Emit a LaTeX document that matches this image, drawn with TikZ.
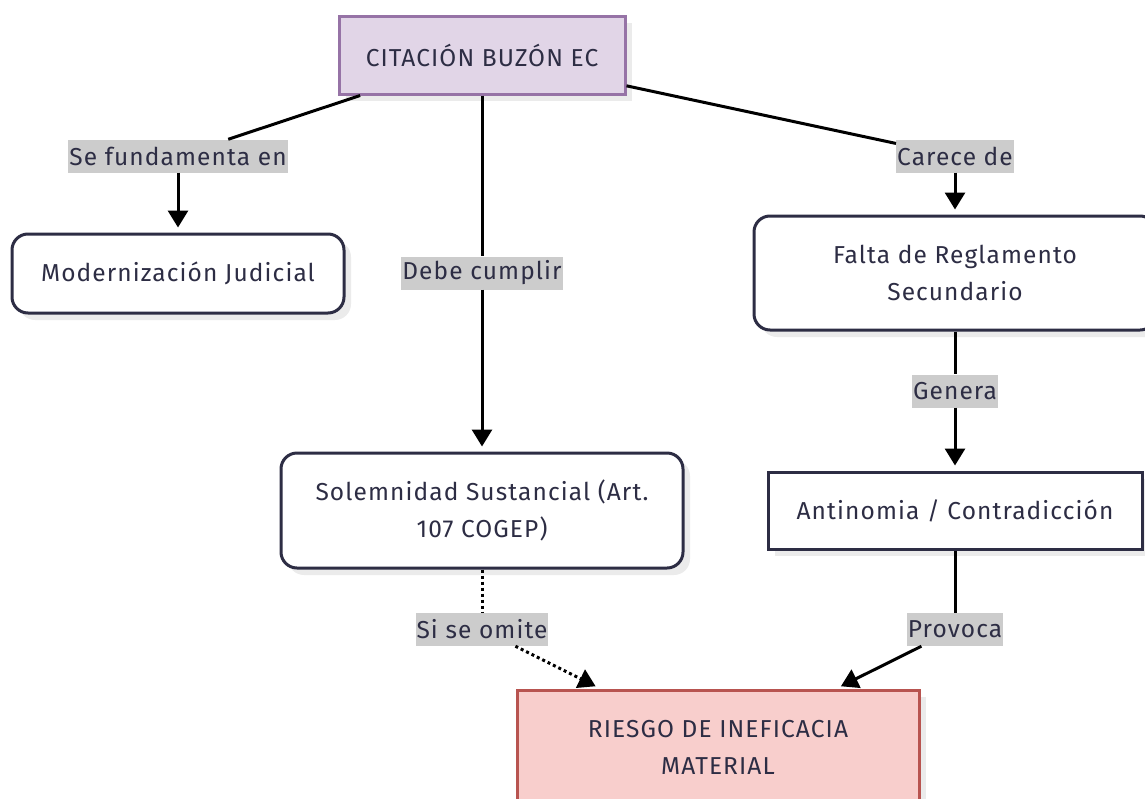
\documentclass[tikz,border=0pt]{standalone}
\usepackage{fontspec}
\setmainfont{Fira Sans}[LetterSpace=4.5]
\usetikzlibrary{arrows.meta,shadows}
\definecolor{txt}{HTML}{2D2D44}
\definecolor{bord}{HTML}{2D2D44}
\definecolor{lav}{HTML}{E1D5E7}
\definecolor{lavb}{HTML}{9673A6}
\definecolor{pink}{HTML}{F8CECC}
\definecolor{pinkb}{HTML}{B85450}
\definecolor{lblfill}{HTML}{CCCCCC}
\definecolor{shd}{HTML}{EBEBEB}
\tikzset{
  base/.style={draw=bord, line width=3pt, text=txt, inner sep=0pt, align=center,
    font=\fontsize{24.5}{37}\selectfont,
    drop shadow={shadow xshift=7pt, shadow yshift=-7pt, fill=shd, opacity=1}},
  roundbox/.style={base, rounded corners=16pt},
  sqbox/.style={base},
  lbl/.style={fill=lblfill, text=txt, inner xsep=1pt, inner ysep=0pt, minimum height=33pt,
    font=\fontsize{24.5}{26}\selectfont},
  conn/.style={line width=3pt, draw=black},
  arr/.style={conn, -{Triangle[length=17pt,width=20pt]}, shorten >=5pt},
  dotconn/.style={conn, dash pattern=on 3pt off 3pt},
}
\begin{document}
\begin{tikzpicture}[x=1pt,y=-1pt]
\useasboundingbox (0,0) rectangle (1145,798);
\clip (0,0) rectangle (1145,798);
% nodes
\node[sqbox, fill=lav, draw=lavb, minimum width=286pt, minimum height=78pt] (top) at (482,55) {CITACIÓN BUZÓN EC};
\node[roundbox, fill=white, minimum width=332pt, minimum height=79pt] (mod) at (178,273.5) {Modernización Judicial};
\node[roundbox, fill=white, minimum width=402pt, minimum height=114pt] (falta) at (955,273) {Falta de Reglamento\\Secundario};
\node[roundbox, fill=white, minimum width=402pt, minimum height=115pt] (sol) at (482,510.5) {Solemnidad Sustancial (Art.\\107 COGEP)};
\node[sqbox, fill=white, minimum width=374pt, minimum height=77pt] (ant) at (955,510.5) {Antinomia / Contradicción};
\node[sqbox, fill=pink, draw=pinkb, minimum width=402pt, minimum height=115pt] (ries) at (718,747.5) {RIESGO DE INEFICACIA\\MATERIAL};
% labels
\node[lbl] (l1) at (178,156) {Se fundamenta en};
\node[lbl] (l2) at (482,273) {Debe cumplir};
\node[lbl] (l3) at (955,156) {Carece de};
\node[lbl] (l4) at (955,391) {Genera};
\node[lbl] (l5) at (482,629.5) {Si se omite};
\node[lbl] (l6) at (955,629.5) {Provoca};
% connectors
\draw[conn] (top) -- (l1);
\draw[arr] (l1) -- (mod);
\draw[conn] (top) -- (l2);
\draw[arr] (l2) -- (sol);
\draw[conn] (top) -- (l3);
\draw[arr] (l3) -- (falta);
\draw[conn] (falta) -- (l4);
\draw[arr] (l4) -- (ant);
\draw[dotconn] (sol) -- (l5);
\draw[arr, dotconn] (l5) -- (ries);
\draw[conn] (ant) -- (l6);
\draw[arr] (l6) -- (ries);
\end{tikzpicture}
\end{document}
